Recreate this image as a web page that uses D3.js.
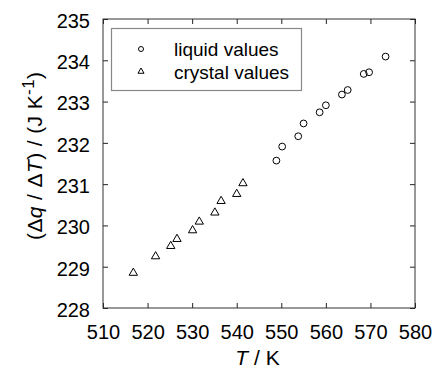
<!DOCTYPE html>
<html><head><meta charset="utf-8">
<script src="https://cdn.jsdelivr.net/npm/d3@7"></script>
<style>body{margin:0;background:#fff;} svg{display:block;} text{font-family:Arial,"Liberation Sans",sans-serif;}</style>
</head><body>
<svg id="c" width="435" height="375"></svg>
<script>
const liquidT = [548.9, 550.2, 553.8, 555.0, 558.6, 560.0, 563.6, 564.9, 568.5, 569.7, 573.4];
const liquidC = [231.57, 231.91, 232.16, 232.47, 232.74, 232.91, 233.17, 233.28, 233.67, 233.71, 234.09];
const crystalT = [516.8, 521.8, 525.2, 526.6, 530.1, 531.6, 535.1, 536.5, 540.0, 541.4];
const crystalC = [228.85, 229.25, 229.50, 229.67, 229.88, 230.09, 230.31, 230.59, 230.76, 231.02];
const xTicks = [510, 520, 530, 540, 550, 560, 570, 580];
const yTicks = [228, 229, 230, 231, 232, 233, 234, 235];
const legendLabels = ["liquid values", "crystal values"];

const svg = d3.select("#c");
const L = 103, R = 415, T = 19, B = 308;
const x = d3.scaleLinear().domain([510, 580]).range([L, R]);
const y = d3.scaleLinear().domain([228, 235]).range([B, T]);
const fs = 20;

function styleAxis(g) {
  g.selectAll(".domain").remove();
  g.selectAll(".tick line").attr("stroke", "#222").attr("stroke-width", 1);
}
svg.append("g").attr("transform", `translate(0,${B})`)
  .call(d3.axisBottom(x).tickValues(xTicks).tickSizeInner(-5).tickSizeOuter(0).tickPadding(17).tickFormat(d3.format("d")))
  .call(styleAxis)
  .selectAll("text").attr("font-size", fs).attr("fill", "#000");
svg.append("g").attr("transform", `translate(0,${T})`)
  .call(d3.axisTop(x).tickValues(xTicks).tickSizeInner(-5).tickSizeOuter(0).tickFormat(""))
  .call(styleAxis);
svg.append("g").attr("transform", `translate(${L},0)`)
  .call(d3.axisLeft(y).tickValues(yTicks).tickSizeInner(-5).tickSizeOuter(0).tickPadding(13).tickFormat(d3.format("d")))
  .call(styleAxis)
  .selectAll("text").attr("font-size", fs).attr("fill", "#000").attr("dy", "0.42em");
svg.append("g").attr("transform", `translate(${R},0)`)
  .call(d3.axisRight(y).tickValues(yTicks).tickSizeInner(-5).tickSizeOuter(0).tickFormat(""))
  .call(styleAxis);

svg.append("rect").attr("x", L).attr("y", T).attr("width", R - L).attr("height", B - T)
  .attr("fill", "none").attr("stroke", "#333").attr("stroke-width", 1);

const tri = d3.symbol().type(d3.symbolTriangle).size(30);
svg.append("g").selectAll("path").data(crystalT).join("path")
  .attr("d", tri)
  .attr("transform", (d, i) => `translate(${x(d)},${y(crystalC[i])})`)
  .attr("fill", "none").attr("stroke", "#000").attr("stroke-width", 1);
svg.append("g").selectAll("circle").data(liquidT).join("circle")
  .attr("cx", d => x(d)).attr("cy", (d, i) => y(liquidC[i])).attr("r", 3.4)
  .attr("fill", "none").attr("stroke", "#000").attr("stroke-width", 1);

// legend
const lg = svg.append("g");
lg.append("rect").attr("x", 111.5).attr("y", 28.5).attr("width", 190).attr("height", 62)
  .attr("fill", "#fff").attr("stroke", "#888").attr("stroke-width", 1.2);
lg.append("circle").attr("cx", 141).attr("cy", 49).attr("r", 2.5)
  .attr("fill", "none").attr("stroke", "#000");
lg.append("path").attr("d", d3.symbol().type(d3.symbolTriangle).size(16))
  .attr("transform", "translate(141,71.5)").attr("fill", "none").attr("stroke", "#000");
lg.selectAll("text").data(legendLabels).join("text")
  .attr("x", 174).attr("y", (d, i) => 56 + i * 22.5)
  .attr("font-size", 19).text(d => d);

// x label
const xl = svg.append("text").attr("x", 257.5).attr("y", 365)
  .attr("text-anchor", "middle").attr("font-size", 21);
xl.append("tspan").attr("font-style", "italic").text("T");
xl.append("tspan").text(" / K");

// y label
const yl = svg.append("text").attr("transform", "translate(42,156) rotate(-90)")
  .attr("text-anchor", "middle").attr("font-size", 21)
  .attr("textLength", 168).attr("lengthAdjust", "spacing");
yl.append("tspan").text("(Δ");
yl.append("tspan").attr("font-style", "italic").text("q");
yl.append("tspan").text(" / Δ");
yl.append("tspan").attr("font-style", "italic").text("T");
yl.append("tspan").text(") / (J K");
yl.append("tspan").attr("font-size", 17).attr("dy", -8).text("-1");
yl.append("tspan").attr("dy", 8).text(")");
</script>
</body></html>
